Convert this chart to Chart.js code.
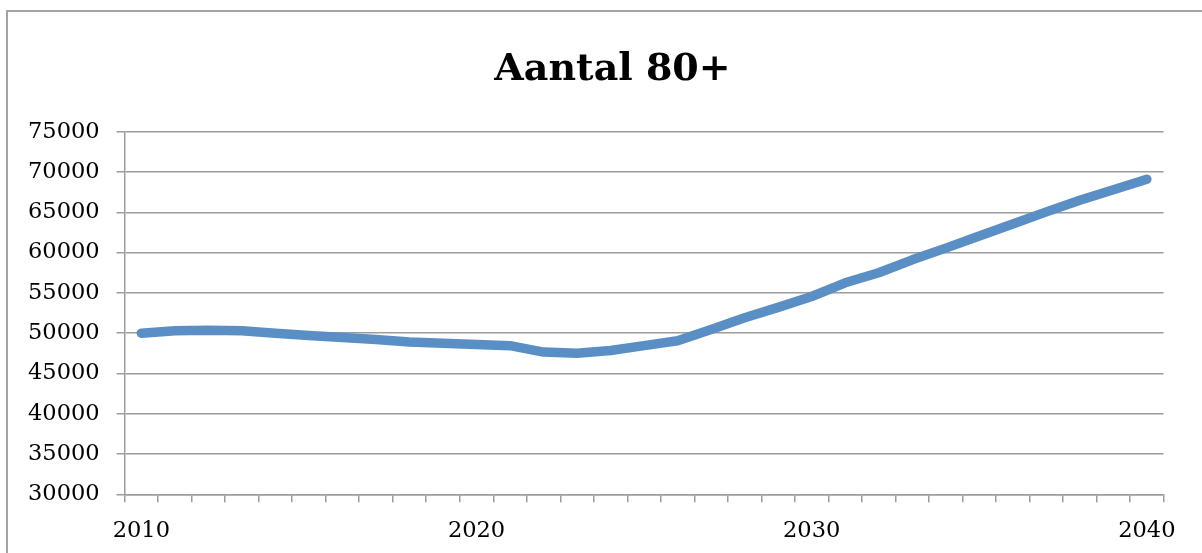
<!DOCTYPE html>
<html>
<head>
<meta charset="utf-8">
<script src="https://cdn.jsdelivr.net/npm/chart.js@4.4.1/dist/chart.umd.min.js"></script>
<style>
  html, body { margin: 0; padding: 0; background: #fff; overflow: hidden; width: 1202px; height: 553px; }
  #frame { position: absolute; left: 6px; top: 10px; width: 1400px; height: 700px; border: 2px solid #a3a3a3; box-sizing: border-box; }
  #c { position: absolute; left: 7px; top: 11px; }
</style>
</head>
<body>
<div id="frame"></div>
<canvas id="c" width="1211" height="542"></canvas>
<script>
// Number of people aged 80 and over, per year
const years = ['2010','2011','2012','2013','2014','2015','2016','2017','2018','2019',
               '2020','2021','2022','2023','2024','2025','2026','2027','2028','2029',
               '2030','2031','2032','2033','2034','2035','2036','2037','2038','2039','2040'];
const aantal80plus = [50000, 50300, 50350, 50300, 50000, 49700, 49450, 49200, 48900, 48750,
                      48600, 48450, 47650, 47500, 47850, 48450, 49050, 50450, 51900, 53200,
                      54550, 56250, 57500, 59100, 60550, 62050, 63550, 65050, 66500, 67800, 69100];
const xTickLabels = ['2010', '2020', '2030', '2040'];
const yMin = 30000, yMax = 75000, yStep = 5000;
const chartTitle = 'Aantal 80+';

const gridGray = '#9c9c9c';
const labelFont = { family: '"DejaVu Serif", serif', size: 22.5 };

// Title centred on the full chart box (the plot area itself is off-centre)
const centredTitle = {
  id: 'centredTitle',
  afterDraw(chart) {
    const ctx = chart.ctx;
    ctx.save();
    ctx.font = 'bold 38px "DejaVu Serif", serif';
    ctx.fillStyle = '#000';
    ctx.textAlign = 'center';
    ctx.textBaseline = 'alphabetic';
    ctx.fillText(chartTitle, chart.width / 2, 69);
    ctx.restore();
  }
};

new Chart(document.getElementById('c'), {
  type: 'line',
  data: {
    labels: years,
    datasets: [{
      label: chartTitle,
      data: aantal80plus,
      borderColor: '#5a8fc6',
      backgroundColor: '#5a8fc6',
      borderWidth: 9.5,
      borderCapStyle: 'round',
      borderJoinStyle: 'round',
      pointRadius: 0,
      tension: 0,
      fill: false
    }]
  },
  plugins: [centredTitle],
  options: {
    responsive: false,
    animation: false,
    devicePixelRatio: 1,
    layout: { padding: { left: 0, right: 54.4, top: 120.7, bottom: 0 } },
    plugins: {
      legend: { display: false },
      tooltip: { enabled: false },
      title: { display: false }
    },
    scales: {
      x: {
        type: 'category',
        offset: true,
        grid: {
          offset: true,
          drawOnChartArea: false,
          drawTicks: true,
          tickLength: 8,
          color: gridGray,
          lineWidth: 1.5
        },
        border: { display: true, color: gridGray, width: 1.5 },
        ticks: {
          autoSkip: false,
          maxRotation: 0,
          minRotation: 0,
          padding: 15.5,
          color: '#000',
          font: labelFont,
          callback: function (value) {
            const lab = this.getLabelForValue(value);
            return xTickLabels.includes(lab) ? lab : '';
          }
        },
        afterFit: function (scale) { scale.height = 58.7; }
      },
      y: {
        min: yMin,
        max: yMax,
        grid: {
          drawOnChartArea: true,
          drawTicks: true,
          tickLength: 8,
          color: gridGray,
          lineWidth: 1.5
        },
        border: { display: true, color: gridGray, width: 1.5 },
        ticks: {
          stepSize: yStep,
          padding: 17,
          color: '#000',
          font: labelFont,
          callback: function (value) { return String(value); }
        },
        afterFit: function (scale) { scale.width = 117.6; }
      }
    }
  }
});
</script>
</body>
</html>
